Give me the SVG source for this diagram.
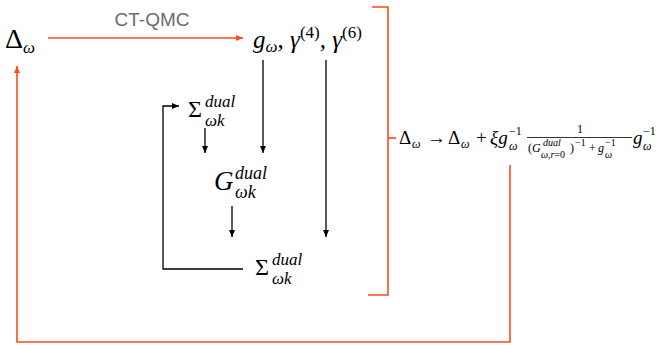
<svg xmlns="http://www.w3.org/2000/svg" width="660" height="345" viewBox="0 0 660 345">
<defs>
<marker id="ar" markerWidth="8" markerHeight="8" refX="7" refY="4" orient="auto" markerUnits="userSpaceOnUse"><path d="M0,1 L7,4 L0,7 z" fill="#ff4a1c"/></marker>
<marker id="ab" markerWidth="8" markerHeight="8" refX="7" refY="4" orient="auto" markerUnits="userSpaceOnUse"><path d="M0,1 L7,4 L0,7 z" fill="#000"/></marker>
</defs>
<style>
.m{font-family:'Liberation Serif',serif;fill:#000}
.i{font-style:italic}
.lbl{font-family:'Liberation Sans',Arial,sans-serif;fill:#6b6b6b}
.red{stroke:#ff4a1c;stroke-width:1.6;fill:none}
.blk{stroke:#000;stroke-width:1.3;fill:none}
</style>
<rect width="660" height="345" fill="#fff"/>
<g id="connectors">
<line class="red" x1="48" y1="38" x2="243" y2="38" marker-end="url(#ar)"/>
<polyline class="red" points="372,7 388,7 388,295 368,295"/>
<line class="red" x1="388" y1="138" x2="396" y2="138"/>
<polyline class="red" points="510,165 510,342 17,342 17,66" marker-end="url(#ar)"/>
<line class="blk" x1="263" y1="60" x2="263" y2="153" marker-end="url(#ab)"/>
<line class="blk" x1="326" y1="60" x2="326" y2="237" marker-end="url(#ab)"/>
<line class="blk" x1="205" y1="128" x2="205" y2="153" marker-end="url(#ab)"/>
<line class="blk" x1="232" y1="206" x2="232" y2="237" marker-end="url(#ab)"/>
<polyline class="blk" points="243,269 163,269 163,106 179,106" marker-end="url(#ab)"/>
</g>
<g id="label-ctqmc">
<text class="lbl" x="152" y="26" font-size="19" text-anchor="middle">CT-QMC</text>
</g>
<g id="node-delta">
<text class="m" x="5" y="48" font-size="28">Δ</text>
<text class="m i" x="23" y="53" font-size="17">ω</text>
</g>
<g id="node-g">
<text class="m" x="253" y="48" font-size="25"><tspan class="i">g</tspan><tspan class="i" font-size="17" dy="4">ω</tspan><tspan dy="-4">, </tspan><tspan class="i">γ</tspan><tspan font-size="17" dy="-10">(4)</tspan><tspan dy="10">, </tspan><tspan class="i">γ</tspan><tspan font-size="17" dy="-10">(6)</tspan></text>
</g>
<g id="node-sigma-top">
<text class="m" x="188" y="117" font-size="24">Σ</text>
<text class="m i" x="205" y="107" font-size="17">dual</text>
<text class="m i" x="205" y="126" font-size="17">ωk</text>
</g>
<g id="node-G">
<text class="m i" x="214" y="190" font-size="27">G</text>
<text class="m i" x="235" y="179" font-size="18">dual</text>
<text class="m i" x="235" y="198" font-size="18">ωk</text>
</g>
<g id="node-sigma-bottom">
<text class="m" x="255" y="275" font-size="24">Σ</text>
<text class="m i" x="272" y="265" font-size="17">dual</text>
<text class="m i" x="272" y="284" font-size="17">ωk</text>
</g>
<g id="node-update">
<text class="m" x="399" y="144" font-size="19">Δ</text>
<text class="m i" x="412" y="148" font-size="12">ω</text>
<text class="m" x="427" y="144" font-size="19">→</text>
<text class="m" x="448" y="144" font-size="19">Δ</text>
<text class="m i" x="461" y="148" font-size="12">ω</text>
<text class="m" x="476" y="144" font-size="19">+</text>
<text class="m i" x="490" y="144" font-size="19">ξg</text>
<text class="m" x="509" y="135" font-size="12">−1</text>
<text class="m i" x="509" y="150" font-size="12">ω</text>
<text class="m" x="577" y="133" font-size="12">1</text>
<line x1="527" y1="137.5" x2="632" y2="137.5" stroke="#000" stroke-width="0.8"/>
<text class="m" x="528" y="152" font-size="12">(</text>
<text class="m i" x="532" y="152" font-size="12">G</text>
<text class="m i" x="543" y="146" font-size="10">dual</text>
<text class="m i" x="541" y="158" font-size="10">ω,r<tspan font-style="normal">=0</tspan></text>
<text class="m" x="570" y="152" font-size="12">)</text>
<text class="m" x="575" y="146" font-size="10">−1</text>
<text class="m" x="589" y="152" font-size="12">+</text>
<text class="m i" x="598" y="152" font-size="12">g</text>
<text class="m" x="605" y="146" font-size="10">−1</text>
<text class="m i" x="605" y="158" font-size="10">ω</text>
<text class="m i" x="633" y="144" font-size="19">g</text>
<text class="m" x="643" y="135" font-size="12">−1</text>
<text class="m i" x="643" y="150" font-size="12">ω</text>
</g>
</svg>
